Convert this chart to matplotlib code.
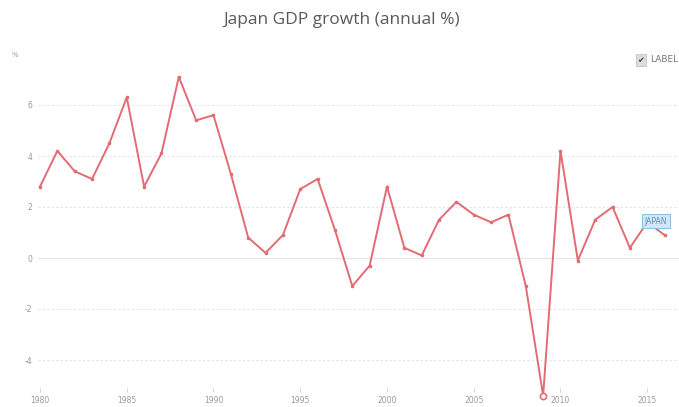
import matplotlib.pyplot as plt

years = list(range(1980, 2017))
growth = [2.8, 4.2, 3.4, 3.1, 4.5, 6.3, 2.8, 4.1, 7.1, 5.4,
          5.6, 3.3, 0.8, 0.2, 0.9, 2.7, 3.1, 1.1, -1.1, -0.3,
          2.8, 0.4, 0.1, 1.5, 2.2, 1.7, 1.4, 1.7, -1.1, -5.4,
          4.2, -0.1, 1.5, 2.0, 0.4, 1.4, 0.9]
yticks = [-4, -2, 0, 2, 4, 6]
xticks = [1980, 1985, 1990, 1995, 2000, 2005, 2010, 2015]

W, H = 679, 407
fig = plt.figure(figsize=(W / 100, H / 100), dpi=100)
fig.patch.set_facecolor('white')

# axes placed in pixels: left 38, right 679, top 70, bottom 388
ax = fig.add_axes([38 / W, (H - 388) / H, (679 - 38) / W, (388 - 70) / H])
ax.set_xlim(1980 - 2 / 17.35, 1980 + (679 - 40) / 17.35)
ax.set_ylim((258 - 388) / 25.5, (258 - 70) / 25.5)

for s in ax.spines.values():
    s.set_visible(False)

for t in yticks:
    if t == 0:
        ax.axhline(0, color='#e8e8e8', lw=1, zorder=1)
    else:
        ax.axhline(t, color='#e4e4e4', lw=0.8, ls=(0, (2, 2)), zorder=1)

red = '#e36b74'
ax.plot(years, growth, color=red, lw=1.4, marker='o', ms=1.6, zorder=3,
        clip_on=False)
i = years.index(2009)
ax.plot(years[i], growth[i], marker='o', ms=4.5, mfc='white', mec=red,
        mew=1.2, zorder=4, clip_on=False)

ax.set_yticks(yticks)
ax.set_yticklabels([str(t) for t in yticks])
ax.set_xticks(xticks)
ax.set_xticklabels([str(t) for t in xticks])
ax.tick_params(axis='y', length=0, pad=4, labelsize=5.5, labelcolor='#999999')
ax.tick_params(axis='x', length=3, width=0.6, color='#cccccc', pad=2.5,
               labelsize=5.5, labelcolor='#999999')

fig.text(342 / W, 1 - 20 / H, 'Japan GDP growth (annual %)', ha='center',
         va='center', fontsize=12.5, color='#5a5a5a', family='Open Sans')
fig.text(15 / W, 1 - 55 / H, '%', ha='center', va='center', fontsize=5,
         color='#999999')

# legend checkbox
fig.text(641 / W, 1 - 60 / H, '\u2714', ha='center', va='center', fontsize=6,
         color='#444444',
         bbox=dict(boxstyle='square,pad=0.15', fc='#dddddd', ec='#bbbbbb', lw=0.5))
fig.text(650 / W, 1 - 60 / H, 'LABEL', ha='left', va='center', fontsize=6.5,
         color='#777777')

# series label
ax.annotate('JAPAN', xy=(2015.5, 1.45), ha='center', va='center', fontsize=5.5,
            color='#5b8db5', zorder=5,
            bbox=dict(boxstyle='square,pad=0.35', fc='#d3e8f6', ec='#8fc1e2', lw=0.8))

fig.savefig('out.png', dpi=100)
